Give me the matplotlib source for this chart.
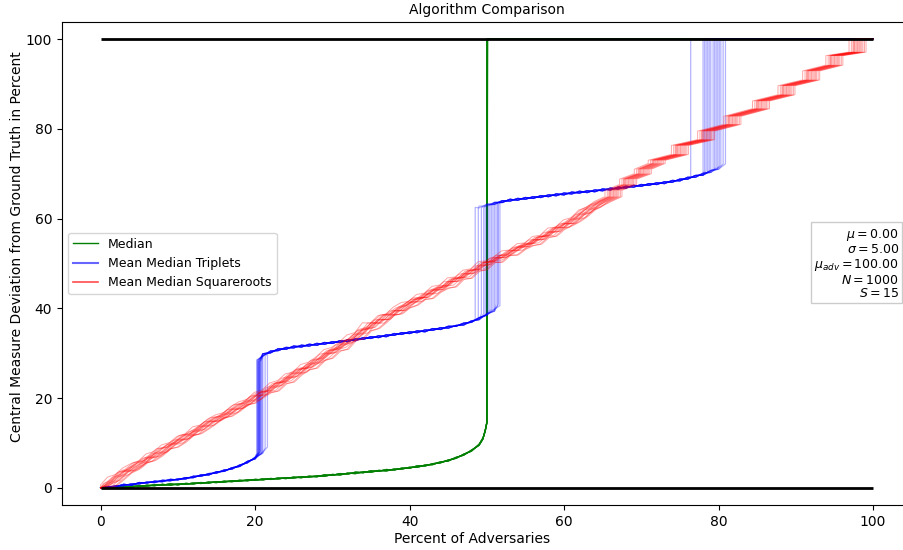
import numpy as np
import matplotlib
matplotlib.use("Agg")
import matplotlib.pyplot as plt
from matplotlib.lines import Line2D

# ---- data ----
# Mean Median Squareroots: noisy part (x = 0..64), three run variants
red_x = np.arange(0, 65)
red_a = [0.0, 0.7, 2.4, 3.0, 4.5, 5.4, 6.0, 7.6, 8.1, 9.6, 10.1, 11.5, 12.0, 13.6, 14.0, 15.4,
         16.3, 16.8, 18.2, 19.2, 19.7, 21.3, 21.8, 23.4, 23.9, 25.4, 25.8, 27.5, 28.0, 29.2,
         30.8, 31.3, 32.5, 34.1, 34.6, 36.8, 36.7, 38.4, 38.7, 40.3, 41.3, 41.6, 43.1, 43.4,
         44.9, 45.2, 46.8, 47.0, 48.5, 48.8, 50.4, 50.6, 51.5, 52.8, 53.0, 54.4, 54.6, 56.0,
         56.3, 57.9, 58.1, 59.7, 60.2, 61.9, 62.5]
red_b = [0.0, 1.0, 1.7, 3.6, 4.0, 5.0, 6.6, 7.0, 8.0, 9.5, 10.6, 11.0, 12.5, 13.1, 14.7, 15.0,
         15.9, 17.4, 17.8, 18.8, 20.4, 20.8, 22.3, 22.9, 24.4, 24.9, 26.5, 27.0, 28.2, 29.8,
         30.2, 31.8, 32.4, 33.5, 35.3, 35.8, 37.4, 37.6, 39.4, 39.6, 41.0, 42.3, 42.5, 44.0,
         44.3, 45.9, 46.1, 47.6, 47.9, 49.4, 49.8, 51.2, 51.4, 52.3, 53.6, 53.8, 55.2, 55.4,
         56.9, 57.2, 58.8, 59.0, 60.8, 61.4, 63.0]
red_c = [0.0, 0.5, 1.9, 3.4, 4.2, 5.6, 6.1, 7.2, 8.7, 9.1, 10.2, 11.7, 12.1, 13.2, 14.4, 15.6,
         16.0, 17.1, 18.5, 18.9, 20.1, 21.2, 21.6, 23.2, 23.6, 25.2, 26.3, 26.7, 28.4, 28.9,
         30.5, 30.9, 32.8, 33.2, 35.0, 35.5, 36.9, 38.5, 38.8, 40.1, 40.7, 42.0, 42.2, 43.6,
         44.5, 44.8, 46.5, 46.7, 48.3, 48.6, 50.2, 50.3, 51.8, 51.9, 53.2, 54.0, 54.3, 55.8,
         56.1, 57.6, 58.4, 59.3, 60.5, 62.0, 62.9]
# staircase part (x = 65..100)
red_stair_x = [65, 66.4, 66.4, 68.3, 68.3, 70.2, 70.2, 72.0, 72.0, 75.0, 75.0, 78.4, 78.4,
               81.8, 81.8, 85.5, 85.5, 88.8, 88.8, 92.0, 92.0, 95.0, 95.0, 98.0, 98.0, 100]
red_stair_y = [63.8, 64.9, 66.3, 67.6, 68.8, 70.0, 71.0, 72.3, 73.0, 74.3, 76.3, 77.6, 79.5,
               81.0, 82.8, 84.5, 86.2, 87.6, 89.6, 90.9, 92.9, 94.2, 96.3, 97.1, 100, 100]
red_shift = [-1.1, 0.55, -0.8, 0.25, -0.6, 0.9, -0.4, 0.1, -0.3, 0.7, -0.15, 1.1, 0.0, 0.4, -0.5]

# Mean Median Triplets: three branches, two run variants, jump positions per run
blue_low_x = np.arange(0, 23)
blue_low_a = [0.0, 0.3, 0.3, 0.8, 0.6, 1.2, 1.1, 1.5, 1.4, 1.9, 1.8, 2.3, 2.3, 2.9, 2.9, 3.6,
              3.7, 4.5, 4.8, 5.9, 6.5, 8.0, 9.1]
blue_low_b = [0.0, 0.1, 0.5, 0.5, 0.9, 0.9, 1.3, 1.2, 1.7, 1.6, 2.0, 2.0, 2.6, 2.6, 3.2, 3.3,
              4.0, 4.2, 5.1, 5.6, 6.8, 7.7, 8.9]
blue_mid_x = np.arange(19, 54)
blue_mid_a = [27.7, 28.1, 29.9, 30.1, 31.0, 30.9, 31.6, 31.4, 32.0, 31.8, 32.4, 32.2, 32.8,
              32.6, 33.2, 33.1, 33.7, 33.5, 34.1, 34.0, 34.6, 34.4, 35.0, 34.8, 35.5, 35.3,
              36.0, 36.0, 36.7, 36.9, 37.9, 38.5, 39.8, 40.6, 42.2]
blue_mid_b = [27.3, 28.5, 29.4, 30.5, 30.6, 31.3, 31.2, 31.8, 31.6, 32.2, 32.0, 32.6, 32.4,
              33.0, 32.8, 33.5, 33.3, 33.9, 33.7, 34.4, 34.2, 34.8, 34.6, 35.2, 35.1, 35.7,
              35.6, 36.2, 36.3, 37.2, 37.5, 38.8, 39.4, 41.0, 41.8]
blue_high_x = np.arange(47, 83)
blue_high_a = [62.2, 62.1, 62.8, 62.8, 63.6, 63.6, 64.3, 64.1, 64.7, 64.5, 65.1, 64.9, 65.5,
               65.3, 65.9, 65.7, 66.2, 66.0, 66.6, 66.4, 67.0, 66.8, 67.4, 67.2, 67.8, 67.6,
               68.2, 68.1, 68.8, 68.8, 69.6, 69.7, 70.7, 71.0, 72.2, 72.8]
blue_high_b = [61.8, 62.5, 62.4, 63.2, 63.2, 64.0, 63.9, 64.5, 64.3, 64.9, 64.7, 65.3, 65.1,
               65.7, 65.5, 66.1, 65.8, 66.4, 66.2, 66.8, 66.6, 67.2, 67.0, 67.6, 67.4, 68.0,
               67.8, 68.5, 68.4, 69.2, 69.2, 70.1, 70.3, 71.4, 71.8, 73.2]
blue_jump1 = [20.5, 20.2, 21.0, 20.35, 20.7, 20.45, 21.6, 20.3, 20.6, 20.9, 20.4, 21.3, 20.55, 20.8, 20.65]
blue_jump2 = [50.2, 48.5, 51.4, 49.6, 50.8, 49.3, 51.7, 50.0, 48.9, 51.0, 49.8, 51.5, 50.4, 51.2, 50.6]
blue_jump3 = [79.3, 78.0, 80.6, 76.4, 79.9, 78.6, 80.9, 79.0, 78.2, 80.3, 78.8, 79.7, 78.4, 80.1, 79.5]

# Median: rises slowly, jumps to 100 at 50 percent
green_x = [0, 1, 2, 3, 4, 5, 6, 7, 8, 9, 10, 11, 12, 13, 14, 15, 16, 17, 18, 19, 20, 21, 22,
           23, 24, 25, 26, 27, 28, 29, 30, 31, 32, 33, 34, 35, 36, 37, 38, 39, 40, 41, 42, 43,
           44, 45, 46, 47, 48, 49, 49.5, 49.8, 50.0]
green_a = [0.0, 0.2, 0.1, 0.3, 0.2, 0.5, 0.4, 0.7, 0.6, 0.9, 0.7, 1.0, 0.9, 1.2, 1.1, 1.4, 1.3,
           1.6, 1.5, 1.8, 1.7, 2.0, 1.9, 2.2, 2.1, 2.4, 2.3, 2.6, 2.5, 2.9, 2.8, 3.2, 3.1, 3.5,
           3.4, 3.8, 3.7, 4.1, 4.0, 4.4, 4.4, 4.9, 4.9, 5.4, 5.6, 6.2, 6.6, 7.5, 8.2, 9.7, 11.1,
           12.7, 14.6]
green_b = [0.0, 0.0, 0.2, 0.1, 0.4, 0.3, 0.6, 0.5, 0.8, 0.6, 0.9, 0.8, 1.1, 1.0, 1.3, 1.2, 1.5,
           1.4, 1.7, 1.6, 1.9, 1.8, 2.1, 2.0, 2.3, 2.2, 2.5, 2.4, 2.7, 2.6, 3.0, 2.9, 3.3, 3.2,
           3.6, 3.5, 3.9, 3.8, 4.2, 4.2, 4.6, 4.6, 5.1, 5.2, 5.8, 6.0, 6.8, 7.3, 8.4, 9.5, 10.9,
           12.9, 14.4]
green_jump = [50.0, 50.05, 50.1, 50.02, 50.08, 50.0, 50.12, 50.04, 50.06, 50.0, 50.1, 50.03, 50.07, 50.01, 50.09]

bounds = [0, 100]
n_runs = 15
info = "$\\mu = 0.00$\n$\\sigma = 5.00$\n$\\mu_{adv} = 100.00$\n$N = 1000$\n$S = 15$"

fig = plt.figure(figsize=(9.04, 5.5), dpi=100)
ax = fig.add_axes([62 / 904, 45 / 550, 849.6 / 904, 483 / 550])

# Median runs
for i in range(n_runs):
    gy = green_a if i % 2 == 0 else green_b
    xs = list(green_x) + [green_jump[i], 100]
    ys = list(gy) + [100, 100]
    ax.plot(xs, ys, color="green", lw=0.9, alpha=0.4)


def val_at(xs, ys, x):
    return ys[int(np.argmin(np.abs(np.asarray(xs) - x)))]


# Triplet runs
for i in range(n_runs):
    lo = blue_low_a if i % 2 == 0 else blue_low_b
    mi = blue_mid_a if i % 2 == 0 else blue_mid_b
    hi = blue_high_a if i % 2 == 0 else blue_high_b
    j1, j2, j3 = blue_jump1[i], blue_jump2[i], blue_jump3[i]
    xs, ys = [], []
    for x, y in zip(blue_low_x, lo):
        if x < j1:
            xs.append(x); ys.append(y)
    xs += [j1, j1]; ys += [val_at(blue_low_x, lo, np.ceil(j1)), val_at(blue_mid_x, mi, np.floor(j1))]
    for x, y in zip(blue_mid_x, mi):
        if j1 < x < j2:
            xs.append(x); ys.append(y)
    xs += [j2, j2]; ys += [val_at(blue_mid_x, mi, np.ceil(j2)), val_at(blue_high_x, hi, np.floor(j2))]
    for x, y in zip(blue_high_x, hi):
        if j2 < x < j3:
            xs.append(x); ys.append(y)
    xs += [j3, j3, 100]; ys += [val_at(blue_high_x, hi, np.ceil(j3)), 100, 100]
    ax.plot(xs, ys, color="blue", lw=0.9, alpha=0.3)

# Squareroot runs
variants = [red_a, red_b, red_c]
for i in range(n_runs):
    ry = variants[i % 3]
    xs = np.concatenate([[0], red_x + red_shift[i], np.asarray(red_stair_x) + red_shift[i]])
    ys = np.concatenate([[0], ry, red_stair_y])
    xs = np.clip(xs, 0, 100)
    ax.plot(xs, ys, color="red", lw=0.7, alpha=0.35)

ax.hlines(bounds, 0, 100, colors="black", lw=2, zorder=5)

ax.set_xlim(-5, 105)
ax.set_ylim(-3.8, 103.8)
ax.set_xticks([0, 20, 40, 60, 80, 100])
ax.set_yticks([0, 20, 40, 60, 80, 100])
ax.set_title("Algorithm Comparison", fontsize=10)
ax.set_xlabel("Percent of Adversaries")
ax.set_ylabel("Central Measure Deviation from Ground Truth in Percent")
ax.xaxis.set_label_coords(0.483, -0.055)
ax.yaxis.set_label_coords(-0.045, 0.534)

handles = [Line2D([0], [0], color="green", lw=1.0),
           Line2D([0], [0], color="blue", lw=1.5, alpha=0.6),
           Line2D([0], [0], color="red", lw=1.2, alpha=0.7)]
ax.legend(handles, ["Median", "Mean Median Triplets", "Mean Median Squareroots"],
          loc="center left", fontsize=9)

ax.text(0.985, 0.5, info, transform=ax.transAxes, ha="right", va="center", fontsize=9,
        linespacing=1.05,
        bbox=dict(boxstyle="square,pad=0.25", fc="white", ec="#cccccc"), zorder=6)

fig.savefig("out.png", dpi=100)
